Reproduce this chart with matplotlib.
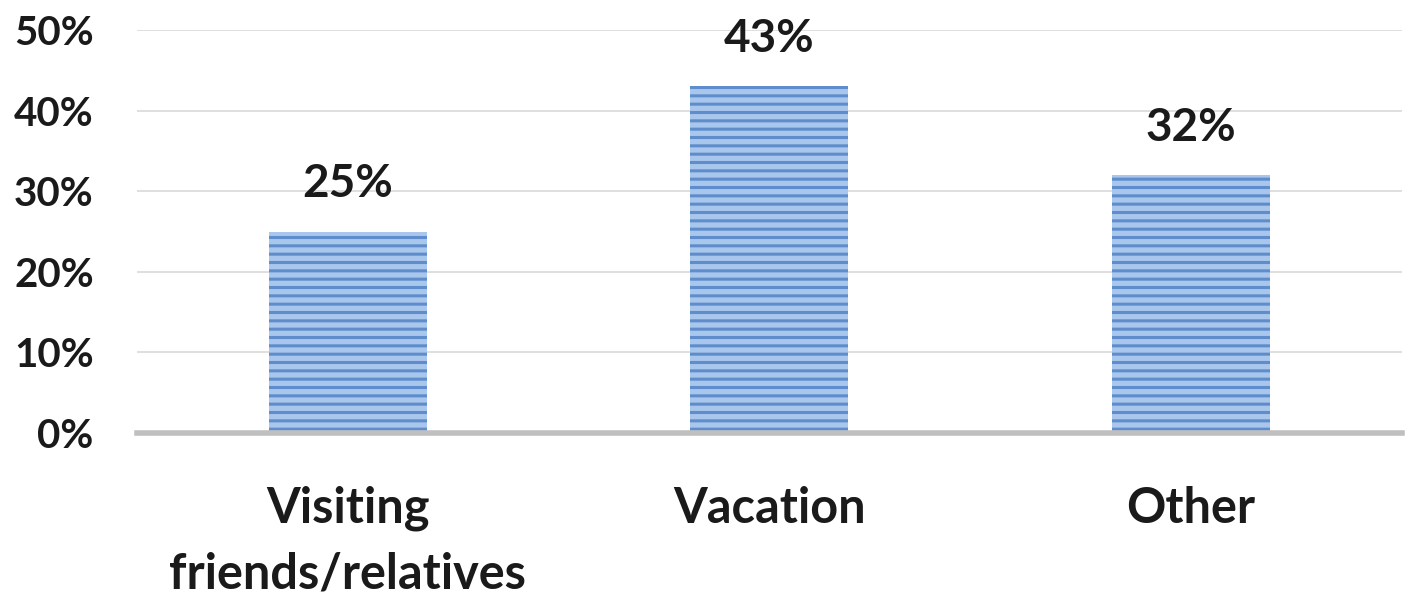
import matplotlib.pyplot as plt
import numpy as np

CATEGORIES = ["Visiting\nfriends/relatives", "Vacation", "Other"]
SHARES = [25, 43, 32]
Y_TICKS = [0, 10, 20, 30, 40, 50]

BAR_FACE = "#a9c6ec"
BAR_STRIPE = "#5f8dcc"
GRID = "#d9d9d9"
BASELINE = "#bfbfbf"
TEXT = "#1a1a1a"


def main() -> None:
    plt.rcParams["font.family"] = ["Lato", "DejaVu Sans"]
    plt.rcParams["font.weight"] = "bold"
    plt.rcParams["hatch.linewidth"] = 2.2
    plt.rcParams["hatch.color"] = BAR_STRIPE

    fig = plt.figure(figsize=(14.10, 6.01), dpi=100)
    ax = fig.add_axes([0.097, 0.2795, 0.897, 0.6705])

    x = np.arange(len(CATEGORIES))
    bars = ax.bar(x, SHARES, width=0.375, color=BAR_FACE, hatch="--",
                  edgecolor=BAR_STRIPE, linewidth=0, zorder=2)
    ax.bar_label(bars, labels=[f"{v}%" for v in SHARES], padding=19,
                 fontsize=33, fontweight="bold", color=TEXT)

    ax.set_xlim(-0.5, len(CATEGORIES) - 0.5)
    ax.set_ylim(0, 50)
    ax.set_yticks(Y_TICKS)
    ax.set_yticklabels([f"{t}%" for t in Y_TICKS], fontsize=29,
                       fontweight="bold", color=TEXT)
    ax.set_xticks(x)
    ax.set_xticklabels(CATEGORIES, fontsize=35, fontweight="bold",
                       color=TEXT, linespacing=1.55)
    ax.tick_params(axis="both", length=0)
    ax.tick_params(axis="y", pad=31)
    ax.tick_params(axis="x", pad=38)

    ax.grid(axis="y", color=GRID, linewidth=1.2, zorder=0)
    for side in ["top", "right", "left"]:
        ax.spines[side].set_visible(False)
    ax.spines["bottom"].set_color(BASELINE)
    ax.spines["bottom"].set_linewidth(4)
    ax.spines["bottom"].set_zorder(3)

    fig.savefig("out.png", dpi=100)


if __name__ == "__main__":
    main()
